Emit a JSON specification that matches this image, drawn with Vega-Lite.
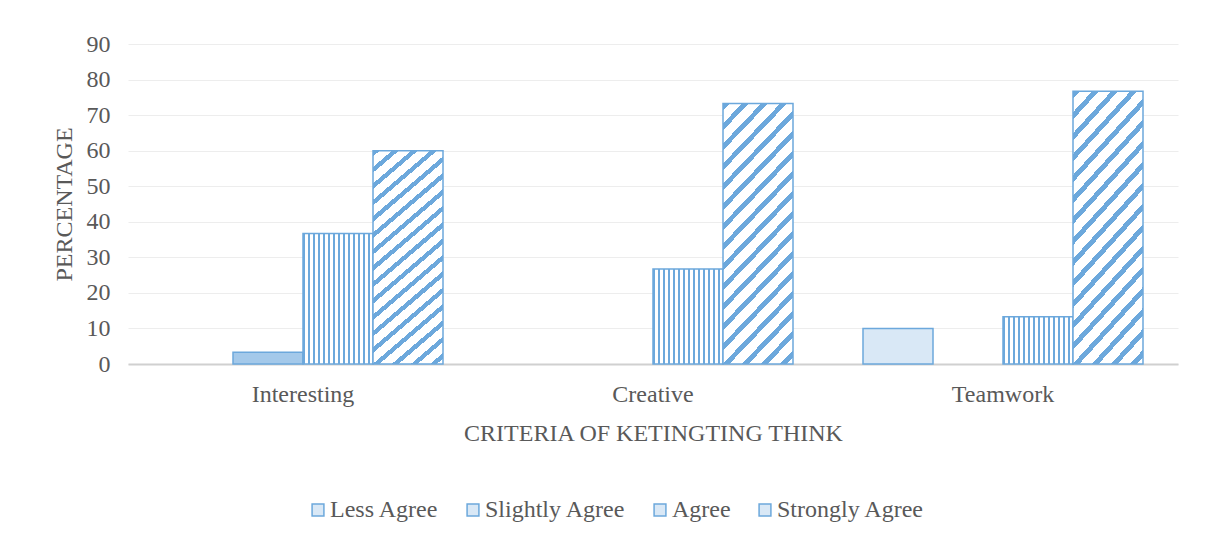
{
  "$schema": "https://vega.github.io/schema/vega-lite/v6.json",
  "width": 1050,
  "height": 320,
  "autosize": {"type": "none"},
  "padding": {"left": 128, "top": 44, "right": 33, "bottom": 180},
  "background": "#FFFFFF",
  "config": {
    "view": {"stroke": null},
    "font": "Liberation Serif"
  },
  "data": {
    "values": [
      {"criteria": "Interesting", "series": "Less Agree", "value": 0},
      {"criteria": "Interesting", "series": "Slightly Agree", "value": 3.3},
      {"criteria": "Interesting", "series": "Agree", "value": 36.7},
      {"criteria": "Interesting", "series": "Strongly Agree", "value": 60},
      {"criteria": "Creative", "series": "Less Agree", "value": 0},
      {"criteria": "Creative", "series": "Slightly Agree", "value": 0},
      {"criteria": "Creative", "series": "Agree", "value": 26.7},
      {"criteria": "Creative", "series": "Strongly Agree", "value": 73.3},
      {"criteria": "Teamwork", "series": "Less Agree", "value": 10},
      {"criteria": "Teamwork", "series": "Slightly Agree", "value": 0},
      {"criteria": "Teamwork", "series": "Agree", "value": 13.3},
      {"criteria": "Teamwork", "series": "Strongly Agree", "value": 76.7}
    ]
  },
  "encoding": {
    "x": {
      "field": "criteria", "type": "nominal",
      "sort": ["Interesting", "Creative", "Teamwork"],
      "scale": {"paddingInner": 0.2, "paddingOuter": 0.1},
      "axis": {
        "labelAngle": 0, "ticks": false, "domainColor": "#D0D0D0", "domainWidth": 2,
        "labelFont": "Liberation Serif", "labelFontSize": 24, "labelColor": "#595959", "labelPadding": 18,
        "title": "CRITERIA OF KETINGTING THINK", "titleFont": "Liberation Serif", "titleFontSize": 24,
        "titleFontWeight": "normal", "titleColor": "#595959", "titlePadding": 15
      }
    },
    "y": {
      "field": "value", "type": "quantitative",
      "scale": {"domain": [0, 90], "nice": false},
      "axis": {
        "values": [0, 10, 20, 30, 40, 50, 60, 70, 80, 90],
        "domain": false, "ticks": false, "gridColor": "#EDEDED", "gridWidth": 1,
        "labelFont": "Liberation Serif", "labelFontSize": 24, "labelColor": "#595959", "labelPadding": 18,
        "title": "PERCENTAGE", "titleFont": "Liberation Serif", "titleFontSize": 24,
        "titleFontWeight": "normal", "titleColor": "#595959", "titlePadding": 10
      }
    },
    "xOffset": {
      "field": "series", "type": "nominal",
      "scale": {"domain": ["Less Agree", "Slightly Agree", "Agree", "Strongly Agree"], "paddingInner": 0, "paddingOuter": 0}
    },
    "stroke": {
      "field": "series", "type": "nominal",
      "scale": {"domain": ["Less Agree", "Slightly Agree", "Agree", "Strongly Agree"], "range": ["#6CA8DC", "#6CA8DC", "#6CA8DC", "#6CA8DC"]},
      "legend": {
        "title": null, "orient": "none", "legendX": 178, "legendY": 454, "direction": "horizontal",
        "symbolType": "square", "symbolSize": 140, "symbolStrokeWidth": 1.5, "symbolFillColor": "#A9CCEC",
        "labelFont": "Liberation Serif", "labelFontSize": 24, "labelColor": "#595959",
        "columnPadding": 22, "labelOffset": 0
      }
    }
  },
  "layer": [
    {
      "transform": [{"filter": "datum.series === 'Less Agree' && datum.value > 0"}],
      "mark": {"type": "bar", "strokeWidth": 1.5, "fill": "#D9E8F6"}
    },
    {
      "transform": [{"filter": "datum.series === 'Slightly Agree' && datum.value > 0"}],
      "mark": {"type": "bar", "strokeWidth": 1.5, "fill": "#A4C9EA"}
    },
    {
      "transform": [{"filter": "datum.series === 'Agree' && datum.value > 0"}],
      "mark": {
        "type": "bar", "strokeWidth": 1.5,
        "fill": {
          "gradient": "linear", "x1": 0, "y1": 0, "x2": 1, "y2": 0,
          "stops": [
            {"offset": 0, "color": "#6CA8DC"}, {"offset": 0.02857, "color": "#6CA8DC"}, {"offset": 0.02857, "color": "#FFFFFF"}, {"offset": 0.07143, "color": "#FFFFFF"},
            {"offset": 0.07143, "color": "#6CA8DC"}, {"offset": 0.1, "color": "#6CA8DC"}, {"offset": 0.1, "color": "#FFFFFF"}, {"offset": 0.14286, "color": "#FFFFFF"},
            {"offset": 0.14286, "color": "#6CA8DC"}, {"offset": 0.17143, "color": "#6CA8DC"}, {"offset": 0.17143, "color": "#FFFFFF"}, {"offset": 0.21429, "color": "#FFFFFF"},
            {"offset": 0.21429, "color": "#6CA8DC"}, {"offset": 0.24286, "color": "#6CA8DC"}, {"offset": 0.24286, "color": "#FFFFFF"}, {"offset": 0.28571, "color": "#FFFFFF"},
            {"offset": 0.28571, "color": "#6CA8DC"}, {"offset": 0.31429, "color": "#6CA8DC"}, {"offset": 0.31429, "color": "#FFFFFF"}, {"offset": 0.35714, "color": "#FFFFFF"},
            {"offset": 0.35714, "color": "#6CA8DC"}, {"offset": 0.38571, "color": "#6CA8DC"}, {"offset": 0.38571, "color": "#FFFFFF"}, {"offset": 0.42857, "color": "#FFFFFF"},
            {"offset": 0.42857, "color": "#6CA8DC"}, {"offset": 0.45714, "color": "#6CA8DC"}, {"offset": 0.45714, "color": "#FFFFFF"}, {"offset": 0.5, "color": "#FFFFFF"},
            {"offset": 0.5, "color": "#6CA8DC"}, {"offset": 0.52857, "color": "#6CA8DC"}, {"offset": 0.52857, "color": "#FFFFFF"}, {"offset": 0.57143, "color": "#FFFFFF"},
            {"offset": 0.57143, "color": "#6CA8DC"}, {"offset": 0.6, "color": "#6CA8DC"}, {"offset": 0.6, "color": "#FFFFFF"}, {"offset": 0.64286, "color": "#FFFFFF"},
            {"offset": 0.64286, "color": "#6CA8DC"}, {"offset": 0.67143, "color": "#6CA8DC"}, {"offset": 0.67143, "color": "#FFFFFF"}, {"offset": 0.71429, "color": "#FFFFFF"},
            {"offset": 0.71429, "color": "#6CA8DC"}, {"offset": 0.74286, "color": "#6CA8DC"}, {"offset": 0.74286, "color": "#FFFFFF"}, {"offset": 0.78571, "color": "#FFFFFF"},
            {"offset": 0.78571, "color": "#6CA8DC"}, {"offset": 0.81429, "color": "#6CA8DC"}, {"offset": 0.81429, "color": "#FFFFFF"}, {"offset": 0.85714, "color": "#FFFFFF"},
            {"offset": 0.85714, "color": "#6CA8DC"}, {"offset": 0.88571, "color": "#6CA8DC"}, {"offset": 0.88571, "color": "#FFFFFF"}, {"offset": 0.92857, "color": "#FFFFFF"},
            {"offset": 0.92857, "color": "#6CA8DC"}, {"offset": 0.95714, "color": "#6CA8DC"}, {"offset": 0.95714, "color": "#FFFFFF"}, {"offset": 1, "color": "#FFFFFF"}
          ]
        }
      }
    },
    {
      "transform": [{"filter": "datum.series === 'Strongly Agree' && datum.value > 0"}],
      "mark": {
        "type": "bar", "strokeWidth": 1.5,
        "fill": {
          "gradient": "linear", "x1": 0, "y1": 0, "x2": 0.34, "y2": 1.21,
          "stops": [
            {"offset": 0, "color": "#6CA8DC"}, {"offset": 0.02059, "color": "#6CA8DC"}, {"offset": 0.02059, "color": "#FFFFFF"}, {"offset": 0.05882, "color": "#FFFFFF"},
            {"offset": 0.05882, "color": "#6CA8DC"}, {"offset": 0.07941, "color": "#6CA8DC"}, {"offset": 0.07941, "color": "#FFFFFF"}, {"offset": 0.11765, "color": "#FFFFFF"},
            {"offset": 0.11765, "color": "#6CA8DC"}, {"offset": 0.13824, "color": "#6CA8DC"}, {"offset": 0.13824, "color": "#FFFFFF"}, {"offset": 0.17647, "color": "#FFFFFF"},
            {"offset": 0.17647, "color": "#6CA8DC"}, {"offset": 0.19706, "color": "#6CA8DC"}, {"offset": 0.19706, "color": "#FFFFFF"}, {"offset": 0.23529, "color": "#FFFFFF"},
            {"offset": 0.23529, "color": "#6CA8DC"}, {"offset": 0.25588, "color": "#6CA8DC"}, {"offset": 0.25588, "color": "#FFFFFF"}, {"offset": 0.29412, "color": "#FFFFFF"},
            {"offset": 0.29412, "color": "#6CA8DC"}, {"offset": 0.31471, "color": "#6CA8DC"}, {"offset": 0.31471, "color": "#FFFFFF"}, {"offset": 0.35294, "color": "#FFFFFF"},
            {"offset": 0.35294, "color": "#6CA8DC"}, {"offset": 0.37353, "color": "#6CA8DC"}, {"offset": 0.37353, "color": "#FFFFFF"}, {"offset": 0.41176, "color": "#FFFFFF"},
            {"offset": 0.41176, "color": "#6CA8DC"}, {"offset": 0.43235, "color": "#6CA8DC"}, {"offset": 0.43235, "color": "#FFFFFF"}, {"offset": 0.47059, "color": "#FFFFFF"},
            {"offset": 0.47059, "color": "#6CA8DC"}, {"offset": 0.49118, "color": "#6CA8DC"}, {"offset": 0.49118, "color": "#FFFFFF"}, {"offset": 0.52941, "color": "#FFFFFF"},
            {"offset": 0.52941, "color": "#6CA8DC"}, {"offset": 0.55, "color": "#6CA8DC"}, {"offset": 0.55, "color": "#FFFFFF"}, {"offset": 0.58824, "color": "#FFFFFF"},
            {"offset": 0.58824, "color": "#6CA8DC"}, {"offset": 0.60882, "color": "#6CA8DC"}, {"offset": 0.60882, "color": "#FFFFFF"}, {"offset": 0.64706, "color": "#FFFFFF"},
            {"offset": 0.64706, "color": "#6CA8DC"}, {"offset": 0.66765, "color": "#6CA8DC"}, {"offset": 0.66765, "color": "#FFFFFF"}, {"offset": 0.70588, "color": "#FFFFFF"},
            {"offset": 0.70588, "color": "#6CA8DC"}, {"offset": 0.72647, "color": "#6CA8DC"}, {"offset": 0.72647, "color": "#FFFFFF"}, {"offset": 0.76471, "color": "#FFFFFF"},
            {"offset": 0.76471, "color": "#6CA8DC"}, {"offset": 0.78529, "color": "#6CA8DC"}, {"offset": 0.78529, "color": "#FFFFFF"}, {"offset": 0.82353, "color": "#FFFFFF"},
            {"offset": 0.82353, "color": "#6CA8DC"}, {"offset": 0.84412, "color": "#6CA8DC"}, {"offset": 0.84412, "color": "#FFFFFF"}, {"offset": 0.88235, "color": "#FFFFFF"},
            {"offset": 0.88235, "color": "#6CA8DC"}, {"offset": 0.90294, "color": "#6CA8DC"}, {"offset": 0.90294, "color": "#FFFFFF"}, {"offset": 0.94118, "color": "#FFFFFF"},
            {"offset": 0.94118, "color": "#6CA8DC"}, {"offset": 0.96176, "color": "#6CA8DC"}, {"offset": 0.96176, "color": "#FFFFFF"}, {"offset": 1, "color": "#FFFFFF"}
          ]
        }
      }
    }
  ]
}
